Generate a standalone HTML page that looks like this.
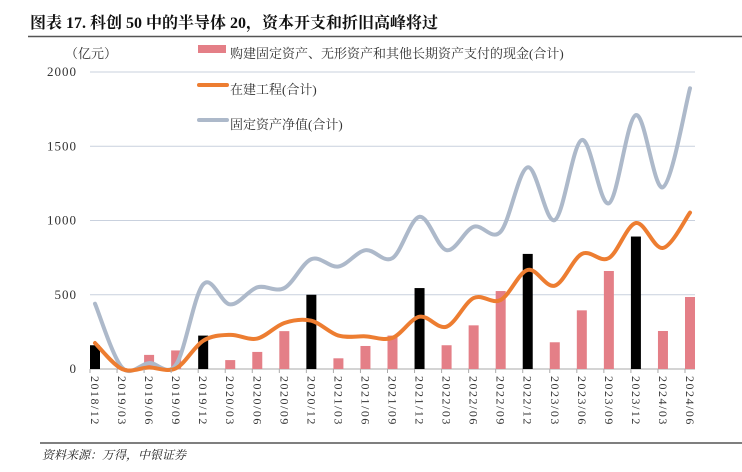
<!DOCTYPE html>
<html><head><meta charset="utf-8">
<style>
body{margin:0;background:#fff;}
svg{display:block;}
text{font-family:"Liberation Serif","Noto Serif CJK SC",serif;}
</style></head>
<body>
<svg id="chart" width="742" height="472" viewBox="0 0 742 472" xmlns="http://www.w3.org/2000/svg">
<text x="30" y="28" font-size="16" font-weight="bold" fill="#111">图表 17. 科创 50 中的半导体 20，资本开支和折旧高峰将过</text>
<line x1="28" y1="36.5" x2="742" y2="36.5" stroke="#555" stroke-width="1.5"/>
<text x="65" y="58" font-size="13" fill="#333">（亿元）</text>
<g id="grid"></g>
<g id="ylabels"></g>
<g id="bars"></g>
<g id="lines"></g>
<g id="xlabels"></g>
<g>
<g><rect x="198" y="45" width="28" height="8" fill="#e47f87"/><text x="230" y="58" font-size="13" fill="#333">购建固定资产、无形资产和其他长期资产支付的现金(合计)</text></g>
<g><line x1="199" y1="85" x2="227" y2="85" stroke="#ed7d31" stroke-width="4" stroke-linecap="round"/><text x="230" y="94" font-size="13" fill="#333">在建工程(合计)</text></g>
<g><line x1="199" y1="120" x2="227" y2="120" stroke="#adb9ca" stroke-width="4" stroke-linecap="round"/><text x="230" y="129" font-size="13" fill="#333">固定资产净值(合计)</text></g>
</g>
<line x1="40" y1="443" x2="742" y2="443" stroke="#333" stroke-width="1.2"/>
<text x="42" y="459" font-size="12" font-style="italic" fill="#222">资料来源：万得，中银证券</text>
</svg>
<script>
const categories=["2018/12","2019/03","2019/06","2019/09","2019/12","2020/03","2020/06","2020/09","2020/12","2021/03","2021/06","2021/09","2021/12","2022/03","2022/06","2022/09","2022/12","2023/03","2023/06","2023/09","2023/12","2024/03","2024/06"];
const capex=[160,5,95,125,225,60,115,255,500,72,155,225,545,160,294,525,775,180,395,660,892,256,485];
const construction=[175,0,10,5,190,230,205,310,325,225,220,210,352,285,478,465,667,561,775,747,983,815,1053];
const fixedAssets=[440,10,40,30,570,435,550,545,740,690,800,747,1025,800,958,925,1358,1003,1542,1116,1710,1224,1890];
const yTicks=[0,500,1000,1500,2000];
const NS="http://www.w3.org/2000/svg";
const x0=90,step=(685-90)/22,yBase=369,yTop=72,yMax=2000;
function xs(i){return x0+i*step;}
function ys(v){return yBase-(v/yMax)*(yBase-yTop);}
function mk(tag,attrs,parent){const e=document.createElementNS(NS,tag);for(const k in attrs)e.setAttribute(k,attrs[k]);parent.appendChild(e);return e;}
const grid=document.getElementById('grid'),yl=document.getElementById('ylabels');
yTicks.forEach(t=>{
  if(t>0){const l=mk('line',{x1:90,x2:695,y1:ys(t),y2:ys(t),stroke:'#c9d1de','stroke-width':1},grid);
  
  }
  const tx=mk('text',{x:77,y:ys(t)+4,'font-size':13,'text-anchor':'end',fill:'#333','letter-spacing':'1'},yl);
  tx.textContent=t;
  
  
});
const bars=document.getElementById('bars');
categories.forEach((c,i)=>{
  const black=(i%4===0);
  const r=mk('rect',{x:xs(i),y:ys(capex[i]),width:10,height:yBase-ys(capex[i]),fill:black?'#000':'#e47f87'},bars);
  
  
});
const ax=mk('line',{x1:90,x2:695,y1:yBase,y2:yBase,stroke:'#aaa','stroke-width':1},grid);


function smooth(vals){
  const p=vals.map((v,i)=>[xs(i)+5,ys(v)]);
  let d='M'+p[0][0]+','+p[0][1];
  for(let i=0;i<p.length-1;i++){
    const a=p[Math.max(i-1,0)],b=p[i],c=p[i+1],e=p[Math.min(i+2,p.length-1)];
    const c1=[b[0]+(c[0]-a[0])/6,b[1]+(c[1]-a[1])/6],c2=[c[0]-(e[0]-b[0])/6,c[1]-(e[1]-b[1])/6];
    d+=' C'+c1+' '+c2+' '+c;
  }
  return d;
}
const lines=document.getElementById('lines');
const lg=mk('path',{d:smooth(fixedAssets),fill:'none',stroke:'#adb9ca','stroke-width':4,'stroke-linecap':'round'},lines);


const lo=mk('path',{d:smooth(construction),fill:'none',stroke:'#ed7d31','stroke-width':4,'stroke-linecap':'round'},lines);


const xl=document.getElementById('xlabels');
categories.forEach((c,i)=>{
  const tk=mk('line',{x1:xs(i),x2:xs(i),y1:yBase,y2:yBase+4,stroke:'#aaa'},xl);
  
  
  const cx=xs(i)+5;
  const t=mk('text',{x:0,y:0,'font-size':12,fill:'#333','letter-spacing':'1.5',transform:'translate('+(cx-4)+','+(yBase+7)+') rotate(90)'},xl);
  t.textContent=c;
  
  
});
</script>
</body></html>
